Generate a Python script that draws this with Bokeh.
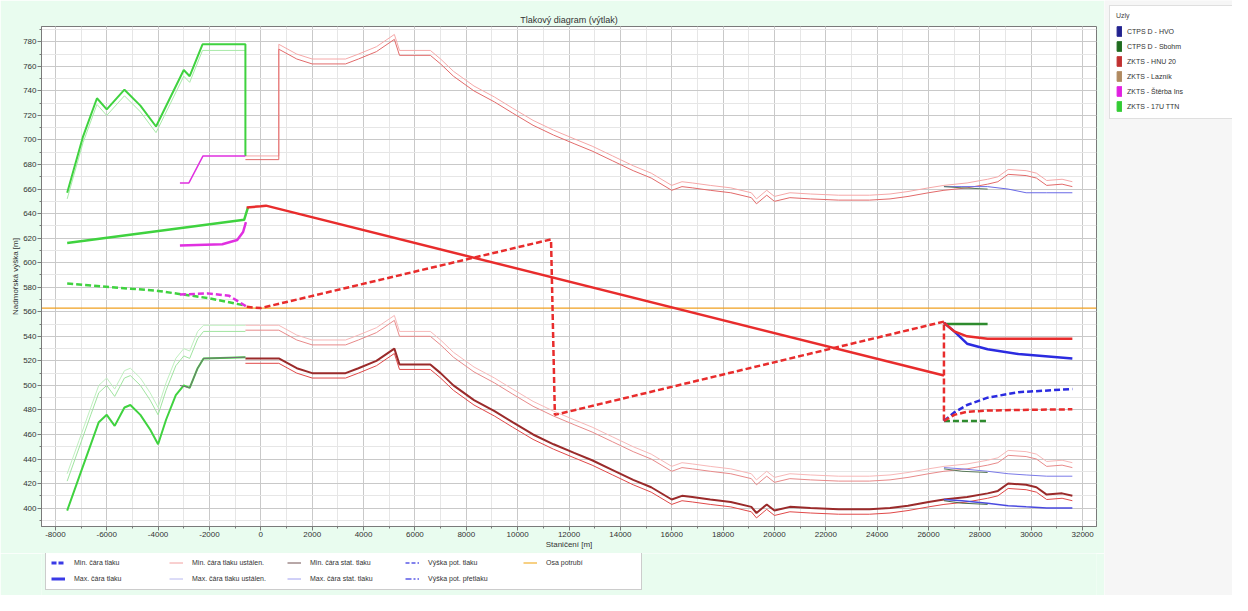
from bokeh.plotting import figure
from bokeh.models import Range1d, Legend, LegendItem, FixedTicker, NumeralTickFormatter
from bokeh.layouts import row, column
from bokeh.embed import file_html
from bokeh.resources import INLINE

# ---------------- data ----------------
TITLE = "Tlakový diagram (výtlak)"
X_LABEL = "Staničení [m]"
Y_LABEL = "Nadmořská výška [m]"

X_TICKS = list(range(-8000, 32001, 2000))
Y_TICKS = list(range(400, 781, 20))

# main section (red) - stations and profile lines
RX = [-600, 0, 700, 1400, 2000, 3300, 3800, 4500, 5200, 5400, 6600, 7000, 7500, 8300, 9100, 9800,
      10600, 11400, 12200, 12900, 13700, 14500, 15200, 16000, 16400, 16800, 17500, 18300, 19100,
      19300, 19700, 20000, 20600, 21400, 22500, 23700, 24500, 25200, 26000, 26600, 27500, 28300,
      28700, 29100, 29800, 30200, 30600, 31200, 31600]
R_TERRAIN = [522, 522, 522, 514, 510, 510, 514, 520, 530, 517, 517, 510, 500, 488, 479, 470, 460,
             452, 445, 439, 431, 423, 417, 407, 410, 409, 407, 405, 401, 396, 403, 398, 401, 400,
             399, 399, 400, 402, 405, 407, 409, 412, 414, 420, 419, 417, 411, 412, 410]
R_TERRAIN_LOW = [518, 518, 518, 510, 506, 506, 510, 516, 526, 513, 513, 506, 496, 484, 475, 466,
                 456, 448, 441, 435, 427, 419, 413, 403, 406, 405, 403, 401, 397, 392, 399, 394,
                 397, 396, 395, 395, 396, 398, 401, 403, 405, 408, 410, 416, 415, 413, 407, 408, 406]
R_MID1 = [549, 549, 549, 541, 537, 537, 541, 547, 557, 544, 544, 537, 527, 515, 506, 497, 487,
          479, 472, 466, 458, 450, 444, 434, 437, 436, 434, 432, 428, 423, 430, 425, 428, 427,
          426, 426, 427, 429, 432, 434, 436, 439, 441, 447, 446, 444, 438, 439, 437]
R_MID2 = [545, 545, 545, 537, 533, 533, 537, 543, 553, 540, 540, 533, 523, 511, 502, 493, 483,
          475, 468, 462, 454, 446, 440, 430, 433, 432, 430, 428, 424, 419, 426, 421, 424, 423,
          422, 422, 423, 425, 428, 430, 432, 435, 437, 443, 442, 440, 434, 435, 433]
RUX = [-600, 700, 700, 1400, 2000, 3300, 3800, 4500, 5200, 5400, 6600, 7000, 7500, 8300, 9100,
       9800, 10600, 11400, 12200, 12900, 13700, 14500, 15200, 16000, 16400, 16800, 17500, 18300,
       19100, 19300, 19700, 20000, 20600, 21400, 22500, 23700, 24500, 25200, 26000, 26600, 27500,
       28300, 28700, 29100, 29800, 30200, 30600, 31200, 31600]
R_UP1 = [687, 687, 778, 770, 766, 766, 770, 776, 786, 773, 773, 766, 756, 744, 735, 726, 716, 708,
         701, 695, 687, 679, 673, 663, 666, 665, 663, 661, 657, 652, 659, 654, 657, 656, 655, 655,
         656, 658, 661, 663, 665, 668, 670, 676, 675, 673, 667, 668, 666]
R_UP2 = [684, 684, 774, 766, 762, 762, 766, 772, 782, 769, 769, 762, 752, 740, 731, 722, 712, 704,
         697, 691, 683, 675, 669, 659, 662, 661, 659, 657, 653, 648, 655, 650, 653, 652, 651, 651,
         652, 654, 657, 659, 661, 664, 666, 672, 671, 669, 663, 664, 662]

# green section (left)
GX = [-7540, -7080, -6620, -6310, -6000, -5690, -5310, -5080, -4690, -4310, -4000, -3690, -3310,
      -3000, -2770, -2460, -2230, -600]
G_TERRAIN = [398, 425, 452, 470, 476, 467, 482, 484, 476, 464, 452, 472, 492, 500, 498, 514, 522, 523]
G_MID1 = [428, 455, 482, 500, 506, 497, 512, 514, 506, 494, 482, 502, 522, 530, 528, 544, 549, 549]
G_MID2 = [422, 449, 476, 494, 500, 491, 506, 508, 500, 488, 476, 496, 516, 524, 522, 538, 544, 544]
GUX = [-7540, -6920, -6380, -6000, -5310, -4690, -4080, -3540, -3000, -2770, -2270, -600, -600]
G_UP1 = [657, 703, 734, 725, 741, 728, 711, 734, 757, 752, 778, 778, 687]
G_UP2 = [652, 698, 729, 720, 736, 723, 706, 729, 752, 747, 773, 773, 687]

# magenta section
MX = [-3150, -2770, -2460, -2230, -600]
M_TERRAIN = [500, 498, 514, 522, 523]
MUX = [-3150, -2800, -2250, -600]
M_UP = [665, 665, 687, 687]

# pressure lines
G_MAX_X = [-7540, -650, -560, -500]
G_MAX = [616, 635, 641, 645]
G_MIN_X = [-7540, -4000, -2000, -600]
G_MIN = [583, 577, 571, 565]
M_MAX_X = [-3150, -1500, -920, -690, -580]
M_MAX = [614, 615, 618.5, 625, 633]
M_MIN_X = [-3150, -2080, -1230, -850, -540]
M_MIN = [574, 575, 573, 568, 564]
R_MAX_X = [-550, 0, 200, 26600]
R_MAX = [645, 646, 646.5, 508]
R_MIN_X = [-550, 0, 11300, 11450, 26600, 26600]
R_MIN = [564, 563, 619, 476, 552, 471]

# branches after the node at ~26600 m
BX = [26600, 27000, 27500, 28300, 29500, 31600]
BR_RED_MAX = [551, 544, 540, 538, 538, 538]
BR_RED_MIN = [471, 476, 478.5, 479.5, 480, 480.5]
BR_BLUE_MAX = [551, 544, 534, 529.5, 525.5, 522]
BR_BLUE_MIN = [471, 478, 484, 490, 494.5, 497]
BGX = [26600, 28300]
BR_GREEN_MAX = [550, 550]
BR_GREEN_MIN = [471, 471]

BPX = [26600, 27300, 28300, 29100, 29800, 30600, 31600]
B_TERRAIN = [407, 406, 404, 402, 401, 400, 400]
B_MID = [433, 432, 430, 428, 427, 426, 426]
B_UP = [662, 662, 662, 660, 657, 657, 657]
DGX = [26600, 27300, 28300]
DG_TERRAIN = [406, 404, 403]
DG_MID = [432, 430, 429]
DG_UP = [662, 661, 660]

AXIS_X = [-8540, 32540]
AXIS_Y = [563, 563]

LEGEND_LABELS = ["Min. čára tlaku", "Max. čára tlaku",
                 "Min. čára tlaku ustálen.", "Max. čára tlaku ustálen.",
                 "Min. čára stat. tlaku", "Max. čára stat. tlaku",
                 "Výška pot. tlaku", "Výška pot. přetlaku",
                 "Osa potrubí"]

NODE_NAMES = ["CTPS D - HVO", "CTPS D - Sbohm", "ZKTS - HNU 20", "ZKTS - Lazník",
              "ZKTS - Štěrba Ins", "ZKTS - 17U TTN"]
NODE_COLORS = ["#22228f", "#1f6b1f", "#c03030", "#b08a60", "#e020e0", "#33cc33"]

# ---------------- styling ----------------
BG = "#e9fcef"
FONT = "Liberation Sans"
RED = "#e82c2c"
GREEN = "#3fd23f"
MAG = "#e030e0"
BLUE = "#2b2be0"
DGREEN = "#2e8b2e"
ORANGE = "#f0a020"

MAIN_W = 1104
MAIN_H = 553

p = figure(width=MAIN_W, height=MAIN_H, output_backend="svg", toolbar_location=None,
           x_range=Range1d(-8540, 32540), y_range=Range1d(385, 792.5),
           min_border_left=41, min_border_right=8, min_border_top=26, min_border_bottom=27)
p.title.text = TITLE
p.title.align = "center"
p.title.text_font = FONT
p.title.text_font_size = "9px"
p.title.text_font_style = "normal"
p.title.text_color = "#333333"
p.title.standoff = 4
p.border_fill_color = BG
p.background_fill_color = "white"
p.outline_line_color = "#7a7a7a"

p.xaxis.ticker = FixedTicker(ticks=X_TICKS, minor_ticks=list(range(-8000, 32001, 1000)))
p.yaxis.ticker = FixedTicker(ticks=Y_TICKS, minor_ticks=list(range(390, 791, 10)))
p.xaxis.formatter = NumeralTickFormatter(format="0")
p.xaxis.axis_label = X_LABEL
p.yaxis.axis_label = Y_LABEL
for ax in (p.xaxis, p.yaxis):
    ax.axis_label_text_font = FONT
    ax.axis_label_text_font_size = "8px"
    ax.axis_label_text_font_style = "normal"
    ax.axis_label_text_color = "#333333"
    ax.major_label_text_font = FONT
    ax.major_label_text_font_size = "8px"
    ax.major_label_text_color = "#333333"
    ax.axis_line_color = "#7a7a7a"
    ax.major_tick_line_color = "#7a7a7a"
    ax.minor_tick_line_color = "#7a7a7a"
    ax.major_tick_out = 4
    ax.major_tick_in = 0
    ax.minor_tick_out = 2
    ax.minor_tick_in = 0
    ax.major_label_standoff = 1
    ax.axis_label_standoff = 0
p.grid.grid_line_color = "#c9c9c9"
p.grid.minor_grid_line_color = "#e6e6e6"

# profile lines
p.line(RUX, R_UP1, line_color="#f5a8a8", line_width=1)
p.line(RUX, R_UP2, line_color="#e26a6a", line_width=1)
p.line(RX, R_MID1, line_color="#f7b8b8", line_width=1)
p.line(RX, R_MID2, line_color="#e88a8a", line_width=1)
p.line(RX, R_TERRAIN_LOW, line_color="#e04848", line_width=1)
p.line(RX, R_TERRAIN, line_color="#9a2a2a", line_width=2)

p.line(GUX, G_UP2, line_color="#a8eaa8", line_width=1)
p.line(GUX, G_UP1, line_color=GREEN, line_width=2)
p.line(GX, G_MID2, line_color="#a0e4a0", line_width=1)
p.line(GX, G_MID1, line_color="#c0f0c0", line_width=1)
p.line(GX, G_TERRAIN, line_color=GREEN, line_width=2)

p.line(MX, M_TERRAIN, line_color="#7a6a7a", line_width=1)
p.line(MUX, M_UP, line_color=MAG, line_width=1.5)

p.line(BPX, B_UP, line_color="#6a6ae6", line_width=1)
p.line(BPX, B_MID, line_color="#7a7ae8", line_width=1)
p.line(BPX, B_TERRAIN, line_color="#4a4ae0", line_width=1.5)
p.line(DGX, DG_UP, line_color="#5a7a5a", line_width=1)
p.line(DGX, DG_MID, line_color="#5a7a5a", line_width=1)
p.line(DGX, DG_TERRAIN, line_color="#4a6a4a", line_width=1)

# axis of pipeline
p.line(AXIS_X, AXIS_Y, line_color=ORANGE, line_width=1.2)

# pressure lines
p.line(G_MAX_X, G_MAX, line_color=GREEN, line_width=2.5)
p.line(G_MIN_X, G_MIN, line_color=GREEN, line_width=2.5, line_dash="6 3")
p.line(M_MAX_X, M_MAX, line_color=MAG, line_width=2.5)
p.line(M_MIN_X, M_MIN, line_color=MAG, line_width=2.5, line_dash="6 3")
p.line(R_MAX_X, R_MAX, line_color=RED, line_width=2.5)
p.line(R_MIN_X, R_MIN, line_color=RED, line_width=2.5, line_dash="6 3")
p.line(BGX, BR_GREEN_MAX, line_color=DGREEN, line_width=2.5)
p.line(BGX, BR_GREEN_MIN, line_color=DGREEN, line_width=2.5, line_dash="6 3")
p.line(BX, BR_BLUE_MAX, line_color=BLUE, line_width=2.5)
p.line(BX, BR_BLUE_MIN, line_color=BLUE, line_width=2.5, line_dash="6 3")
p.line(BX, BR_RED_MAX, line_color=RED, line_width=2.5)
p.line(BX, BR_RED_MIN, line_color=RED, line_width=2.5, line_dash="6 3")

# ---- bottom legend: separate small figure ----
LEG_H = 595 - MAIN_H
lf = figure(width=MAIN_W, height=LEG_H, output_backend="svg", toolbar_location=None,
            x_range=Range1d(0, 1), y_range=Range1d(0, 1),
            x_axis_location=None, y_axis_location=None, min_border=0)
lf.grid.visible = False
lf.outline_line_color = None
lf.background_fill_color = BG
lf.border_fill_color = BG
styles = [
    dict(line_color="#3a3ae6", line_width=3, line_dash="5 2"),
    dict(line_color="#3a3ae6", line_width=3),
    dict(line_color="#f2a0a0", line_width=1),
    dict(line_color="#b8b8f0", line_width=1),
    dict(line_color="#705050", line_width=1),
    dict(line_color="#a0a0f0", line_width=1),
    dict(line_color="#5a5ae6", line_width=1.5, line_dash="4 2"),
    dict(line_color="#5a5ae6", line_width=1.5, line_dash="6 2 2 2"),
    dict(line_color="#f2b030", line_width=1.2),
]
items = []
for lab, st in zip(LEGEND_LABELS, styles):
    r = lf.line([5, 6], [5, 6], **st)
    items.append(LegendItem(label=lab, renderers=[r]))
leg = Legend(items=items, location=(4, 5), nrows=2,
             label_text_font=FONT, label_text_font_size="7px", label_text_color="#333333",
             label_height=11, glyph_height=11, glyph_width=14, label_width=90,
             label_standoff=9, spacing=5, padding=5, margin=0,
             border_line_color="#9a9a9a", border_line_width=1.5,
             background_fill_color="white", background_fill_alpha=1.0)
lf.add_layout(leg)

# ---- side panel with node legend ----
s = figure(width=1232 - MAIN_W, height=595, output_backend="svg", toolbar_location=None,
           x_range=Range1d(0, 1), y_range=Range1d(0, 1),
           x_axis_location=None, y_axis_location=None, min_border=0)
s.grid.visible = False
s.outline_line_color = None
s.background_fill_color = "#f6f6f6"
s.border_fill_color = "#f6f6f6"
nitems = []
for name, col in zip(NODE_NAMES, NODE_COLORS):
    r = s.rect(x=[5], y=[5], width=1, height=1, fill_color=col, line_color=col)
    nitems.append(LegendItem(label=name, renderers=[r]))
nleg = Legend(items=nitems, location="top_left", title="Uzly",
              title_text_font=FONT, title_text_font_size="7px", title_text_font_style="normal",
              title_standoff=6,
              label_text_font=FONT, label_text_font_size="7px", label_text_color="#333333",
              glyph_width=6, glyph_height=12, label_height=12, spacing=3, padding=6,
              margin=5, label_width=100,
              border_line_color="#c0c0c0", background_fill_color="white")
s.add_layout(nleg)

layout = row(column(p, lf), s)
open("out.html", "w").write(file_html(layout, INLINE))
